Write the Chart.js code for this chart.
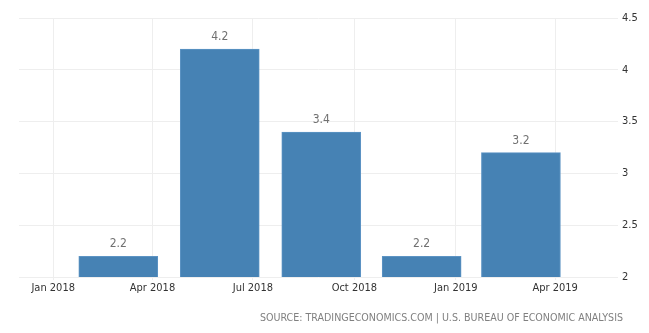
<!DOCTYPE html>
<html>
<head>
<meta charset="utf-8">
<script src="https://cdn.jsdelivr.net/npm/chart.js@4/dist/chart.umd.min.js"></script>
<style>
  html, body { margin: 0; padding: 0; background: #fff; }
  #wrap { width: 649px; height: 333px; position: relative; }
</style>
</head>
<body>
<div id="wrap"><canvas id="c" width="649" height="333"></canvas></div>
<script>
// Quarterly growth rate, each bar centred on the first day of the quarter's last month
const barDates = ['2018-03-01', '2018-06-01', '2018-09-01', '2018-12-01', '2019-03-01'];
const growthValues = [2.2, 4.2, 3.4, 2.2, 3.2];

// Quarter-start ticks on the time axis
const tickDates = ['2018-01-01', '2018-04-01', '2018-07-01', '2018-10-01', '2019-01-01', '2019-04-01'];
const tickLabels = ['Jan 2018', 'Apr 2018', 'Jul 2018', 'Oct 2018', 'Jan 2019', 'Apr 2019'];

// Visible date range of the x axis
const rangeStart = '2017-12-01';
const rangeEnd = '2019-05-28';

const sourceText = 'SOURCE: TRADINGECONOMICS.COM | U.S. BUREAU OF ECONOMIC ANALYSIS';

const DAY = 86400000;
const epoch = Date.UTC(2018, 0, 1);
const toDay = s => (Date.parse(s + 'T00:00:00Z') - epoch) / DAY;

const tickDays = tickDates.map(toDay);
const labelByDay = new Map(tickDays.map((d, i) => [d, tickLabels[i]]));

const FONT = "'DejaVu Sans Condensed', 'DejaVu Sans', sans-serif";
const gridColor = '#eeeeee';

const valueLabels = {
  id: 'valueLabels',
  afterDatasetsDraw(chart) {
    const ctx = chart.ctx;
    const meta = chart.getDatasetMeta(0);
    ctx.save();
    ctx.font = '12px ' + FONT;
    ctx.fillStyle = '#707070';
    ctx.textAlign = 'center';
    ctx.textBaseline = 'middle';
    meta.data.forEach((bar, i) => {
      ctx.fillText(growthValues[i].toFixed(1), bar.x, bar.y - 12);
    });
    ctx.restore();
  }
};

const sourceNote = {
  id: 'sourceNote',
  afterDraw(chart) {
    const ctx = chart.ctx;
    ctx.save();
    ctx.font = '10.6px ' + FONT;
    ctx.fillStyle = '#808080';
    ctx.textAlign = 'right';
    ctx.textBaseline = 'middle';
    ctx.fillText(sourceText, 623, 318);
    ctx.restore();
  }
};

new Chart(document.getElementById('c'), {
  type: 'bar',
  data: {
    datasets: [{
      data: barDates.map((d, i) => ({ x: toDay(d), y: growthValues[i] })),
      backgroundColor: '#4682b4',
      borderColor: '#5d94c4',
      borderWidth: 1,
      borderSkipped: false,
      barThickness: 79
    }]
  },
  options: {
    responsive: false,
    animation: false,
    devicePixelRatio: 1,
    layout: { padding: { left: 19, top: 18, right: 0, bottom: 0 } },
    plugins: { legend: { display: false }, tooltip: { enabled: false } },
    scales: {
      x: {
        type: 'linear',
        offset: false,
        min: toDay(rangeStart),
        max: toDay(rangeEnd),
        afterBuildTicks: scale => { scale.ticks = tickDays.map(v => ({ value: v })); },
        afterFit: scale => { scale.height = 56; },
        grid: { offset: false, color: gridColor, tickLength: 3, drawTicks: true, tickColor: gridColor },
        border: { display: false },
        ticks: {
          autoSkip: false,
          maxRotation: 0,
          padding: 2,
          color: '#333',
          font: { family: FONT, size: 11 },
          callback: v => labelByDay.get(v) || ''
        }
      },
      y: {
        position: 'right',
        min: 2,
        max: 4.5,
        afterFit: scale => { scale.width = 31; },
        grid: { color: gridColor, drawTicks: false },
        border: { display: false },
        ticks: {
          stepSize: 0.5,
          padding: 4,
          color: '#333',
          font: { family: FONT, size: 11 },
          callback: v => String(v)
        }
      }
    }
  },
  plugins: [valueLabels, sourceNote]
});
</script>
</body>
</html>
